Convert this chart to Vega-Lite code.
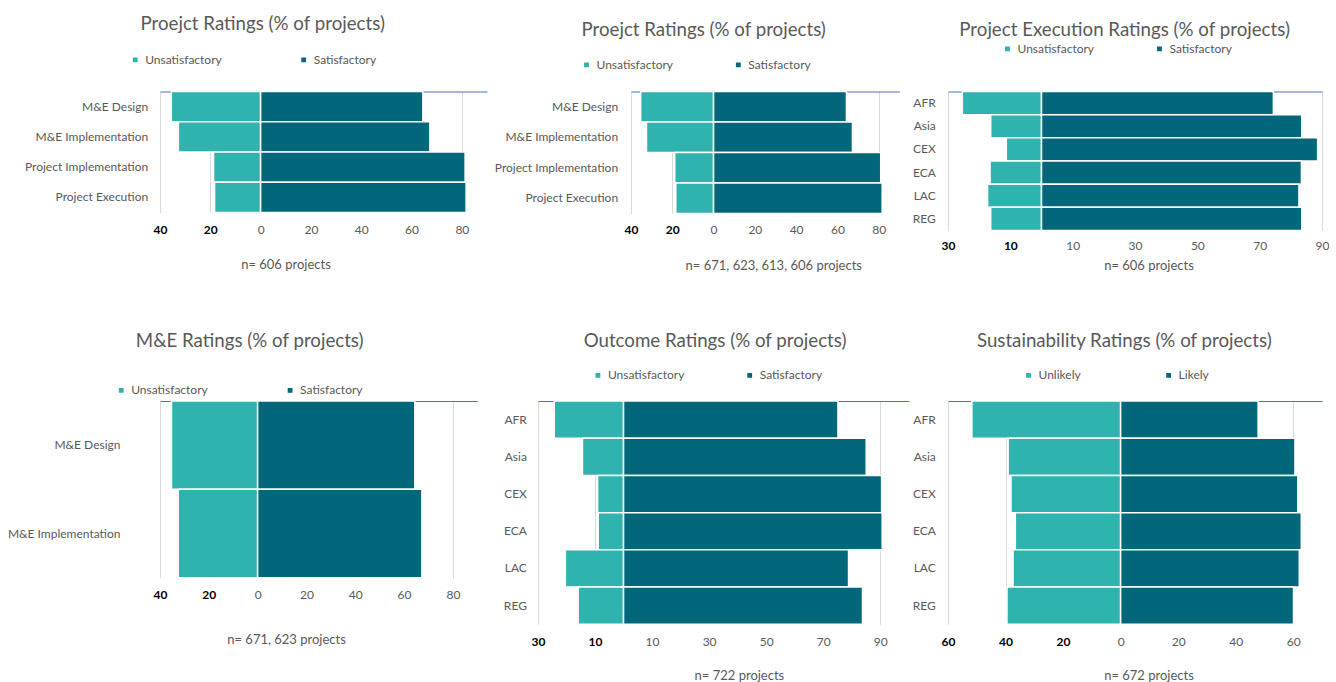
{
  "$schema": "https://vega.github.io/schema/vega-lite/v6.json",
  "background": "white",
  "padding": {"top": 14.5, "left": 0, "right": 0, "bottom": 0},
  "config": {
    "font": "Lato",
    "view": {"stroke": null},
    "title": {"font": "Lato", "fontSize": 18.7, "fontWeight": "normal", "color": "#595959", "frame": "group", "anchor": "middle"},
    "axis": {"labelFont": "Lato", "titleFont": "Lato", "labelFontSize": 12, "labelColor": "#595959", "titleColor": "#595959", "titleFontWeight": "normal"},
    "axisY": {"domain": false, "ticks": false, "grid": false, "title": null, "labelFontSize": 12},
    "legend": {"orient": "none", "direction": "horizontal", "title": null, "symbolType": "square", "symbolSize": 40, "symbolStrokeWidth": 0, "labelFont": "Lato", "labelFontSize": 12, "labelColor": "#595959", "labelOffset": 4, "padding": 0},
    "bar": {"stroke": "white", "strokeWidth": 1.5}
  },
  "datasets": {
    "projectRatings": [
      {"category": "M&E Design", "rating": "Unsatisfactory", "share": -35.5},
      {"category": "M&E Design", "rating": "Satisfactory", "share": 64.5},
      {"category": "M&E Implementation", "rating": "Unsatisfactory", "share": -32.7},
      {"category": "M&E Implementation", "rating": "Satisfactory", "share": 67.3},
      {"category": "Project Implementation", "rating": "Unsatisfactory", "share": -18.7},
      {"category": "Project Implementation", "rating": "Satisfactory", "share": 81.3},
      {"category": "Project Execution", "rating": "Unsatisfactory", "share": -18.3},
      {"category": "Project Execution", "rating": "Satisfactory", "share": 81.7}
    ],
    "projectRatingsAll": [
      {"category": "M&E Design", "rating": "Unsatisfactory", "share": -35.3},
      {"category": "M&E Design", "rating": "Satisfactory", "share": 64.4},
      {"category": "M&E Implementation", "rating": "Unsatisfactory", "share": -32.5},
      {"category": "M&E Implementation", "rating": "Satisfactory", "share": 67.3},
      {"category": "Project Implementation", "rating": "Unsatisfactory", "share": -18.8},
      {"category": "Project Implementation", "rating": "Satisfactory", "share": 81.0},
      {"category": "Project Execution", "rating": "Unsatisfactory", "share": -18.3},
      {"category": "Project Execution", "rating": "Satisfactory", "share": 81.7}
    ],
    "executionByRegion": [
      {"region": "AFR", "rating": "Unsatisfactory", "share": -25.4},
      {"region": "AFR", "rating": "Satisfactory", "share": 74.4},
      {"region": "Asia", "rating": "Unsatisfactory", "share": -16.3},
      {"region": "Asia", "rating": "Satisfactory", "share": 83.5},
      {"region": "CEX", "rating": "Unsatisfactory", "share": -11.3},
      {"region": "CEX", "rating": "Satisfactory", "share": 88.6},
      {"region": "ECA", "rating": "Unsatisfactory", "share": -16.5},
      {"region": "ECA", "rating": "Satisfactory", "share": 83.4},
      {"region": "LAC", "rating": "Unsatisfactory", "share": -17.3},
      {"region": "LAC", "rating": "Satisfactory", "share": 82.6},
      {"region": "REG", "rating": "Unsatisfactory", "share": -16.3},
      {"region": "REG", "rating": "Satisfactory", "share": 83.5}
    ],
    "meRatings": [
      {"category": "M&E Design", "rating": "Unsatisfactory", "share": -35.3},
      {"category": "M&E Design", "rating": "Satisfactory", "share": 64.4},
      {"category": "M&E Implementation", "rating": "Unsatisfactory", "share": -32.5},
      {"category": "M&E Implementation", "rating": "Satisfactory", "share": 67.3}
    ],
    "outcomeByRegion": [
      {"region": "AFR", "rating": "Unsatisfactory", "share": -24.3},
      {"region": "AFR", "rating": "Satisfactory", "share": 75.2},
      {"region": "Asia", "rating": "Unsatisfactory", "share": -14.4},
      {"region": "Asia", "rating": "Satisfactory", "share": 85.1},
      {"region": "CEX", "rating": "Unsatisfactory", "share": -9.1},
      {"region": "CEX", "rating": "Satisfactory", "share": 90.5},
      {"region": "ECA", "rating": "Unsatisfactory", "share": -8.9},
      {"region": "ECA", "rating": "Satisfactory", "share": 90.7},
      {"region": "LAC", "rating": "Unsatisfactory", "share": -20.4},
      {"region": "LAC", "rating": "Satisfactory", "share": 78.9},
      {"region": "REG", "rating": "Unsatisfactory", "share": -15.9},
      {"region": "REG", "rating": "Satisfactory", "share": 83.8}
    ],
    "sustainabilityByRegion": [
      {"region": "AFR", "rating": "Unlikely", "share": -51.7},
      {"region": "AFR", "rating": "Likely", "share": 47.8},
      {"region": "Asia", "rating": "Unlikely", "share": -39.1},
      {"region": "Asia", "rating": "Likely", "share": 60.6},
      {"region": "CEX", "rating": "Unlikely", "share": -38.1},
      {"region": "CEX", "rating": "Likely", "share": 61.6},
      {"region": "ECA", "rating": "Unlikely", "share": -36.6},
      {"region": "ECA", "rating": "Likely", "share": 62.8},
      {"region": "LAC", "rating": "Unlikely", "share": -37.4},
      {"region": "LAC", "rating": "Likely", "share": 62.1},
      {"region": "REG", "rating": "Unlikely", "share": -39.5},
      {"region": "REG", "rating": "Likely", "share": 60.1}
    ]
  },
  "spacing": 58.5,
  "resolve": {"scale": {"color": "independent"}, "legend": {"color": "independent"}},
  "vconcat": [
    {
      "spacing": 0,
      "resolve": {"scale": {"color": "independent"}, "legend": {"color": "independent"}},
      "hconcat": [
        {
          "width": 327, "height": 121,
          "data": {"name": "projectRatings"},
          "title": {"text": "Proejct Ratings (% of projects)", "dx": -60.8, "offset": 20},
          "encoding": {
            "y": {"field": "category", "type": "nominal", "sort": ["M&E Design", "M&E Implementation", "Project Implementation", "Project Execution"], "scale": {"paddingInner": 0, "paddingOuter": 0}, "axis": {"minExtent": 160, "maxExtent": 160, "labelPadding": 12.3}},
            "color": {"field": "rating", "type": "nominal", "scale": {"domain": ["Unsatisfactory", "Satisfactory"], "range": ["#2FB3AE", "#02677A"]}, "legend": {"legendX": -30.8, "legendY": -38, "columnPadding": 74.5}}
          },
          "layer": [
            {
              "transform": [{"filter": "datum.share < 0"}],
              "mark": "bar",
              "encoding": {"x": {"field": "share", "type": "quantitative", "scale": {"domain": [-40, 90], "nice": false}, "axis": {"orient": "bottom", "values": [-40, -20, 0, 20, 40, 60, 80], "domain": false, "ticks": false, "grid": true, "gridColor": "#D9D9D9", "labelFlush": false, "labelOverlap": false, "labelPadding": 12, "labelExpr": "'' + abs(datum.value)", "labelColor": {"condition": {"test": "datum.value < 0", "value": "#000000"}, "value": "#595959"}, "labelFontWeight": {"condition": {"test": "datum.value < 0", "value": "bold"}, "value": "normal"}, "title": "n= 606 projects", "titleFontSize": 13, "titleX": 125.5, "titleY": 52, "titleBaseline": "middle"}}}
            },
            {
              "transform": [{"filter": "datum.share > 0"}],
              "mark": "bar",
              "encoding": {"x": {"field": "share", "type": "quantitative", "axis": {"orient": "top", "labels": false, "ticks": false, "grid": false, "domain": true, "domainColor": "#4472C4", "domainWidth": 1.2, "title": null}}}
            }
          ],
          "resolve": {"axis": {"x": "independent"}}
        },
        {
          "width": 268.3, "height": 122,
          "data": {"name": "projectRatingsAll"},
          "title": {"text": "Proejct Ratings (% of projects)", "dx": -61.5, "offset": 18.5},
          "encoding": {
            "y": {"field": "category", "type": "nominal", "sort": ["M&E Design", "M&E Implementation", "Project Implementation", "Project Execution"], "scale": {"paddingInner": 0, "paddingOuter": 0}, "axis": {"minExtent": 143.7, "maxExtent": 143.7, "labelPadding": 13.4}},
            "color": {"field": "rating", "type": "nominal", "scale": {"domain": ["Unsatisfactory", "Satisfactory"], "range": ["#2FB3AE", "#02677A"]}, "legend": {"legendX": -50.5, "legendY": -33, "columnPadding": 57.8}}
          },
          "layer": [
            {
              "transform": [{"filter": "datum.share < 0"}],
              "mark": "bar",
              "encoding": {"x": {"field": "share", "type": "quantitative", "scale": {"domain": [-40, 90], "nice": false}, "axis": {"orient": "bottom", "values": [-40, -20, 0, 20, 40, 60, 80], "domain": false, "ticks": false, "grid": true, "gridColor": "#D9D9D9", "labelFlush": false, "labelOverlap": false, "labelPadding": 11, "labelExpr": "'' + abs(datum.value)", "labelColor": {"condition": {"test": "datum.value < 0", "value": "#000000"}, "value": "#595959"}, "labelFontWeight": {"condition": {"test": "datum.value < 0", "value": "bold"}, "value": "normal"}, "title": "n= 671, 623, 613, 606  projects", "titleFontSize": 13, "titleX": 142.3, "titleY": 52, "titleBaseline": "middle"}}}
            },
            {
              "transform": [{"filter": "datum.share > 0"}],
              "mark": "bar",
              "encoding": {"x": {"field": "share", "type": "quantitative", "axis": {"orient": "top", "labels": false, "ticks": false, "grid": false, "domain": true, "domainColor": "#4472C4", "domainWidth": 1.2, "title": null}}}
            }
          ],
          "resolve": {"axis": {"x": "independent"}}
        },
        {
          "width": 374, "height": 139,
          "data": {"name": "executionByRegion"},
          "title": {"text": "Project Execution Ratings (% of projects)", "dx": -10.4, "offset": 2.5},
          "encoding": {
            "y": {"field": "region", "type": "nominal", "sort": ["AFR", "Asia", "CEX", "ECA", "LAC", "REG"], "scale": {"paddingInner": 0, "paddingOuter": 0}, "axis": {"minExtent": 47.7, "maxExtent": 47.7, "labelPadding": 12.7}},
            "color": {"field": "rating", "type": "nominal", "scale": {"domain": ["Unsatisfactory", "Satisfactory"], "range": ["#2FB3AE", "#02677A"]}, "legend": {"legendX": 53.5, "legendY": -49, "columnPadding": 58}}
          },
          "layer": [
            {
              "transform": [{"filter": "datum.share < 0"}],
              "mark": "bar",
              "encoding": {"x": {"field": "share", "type": "quantitative", "scale": {"domain": [-30, 90], "nice": false}, "axis": {"orient": "bottom", "values": [-30, -10, 10, 30, 50, 70, 90], "domain": false, "ticks": false, "grid": true, "gridColor": "#D9D9D9", "labelFlush": false, "labelOverlap": false, "labelPadding": 10, "labelExpr": "'' + abs(datum.value)", "labelColor": {"condition": {"test": "datum.value < 0", "value": "#000000"}, "value": "#595959"}, "labelFontWeight": {"condition": {"test": "datum.value < 0", "value": "bold"}, "value": "normal"}, "title": "n= 606 projects", "titleFontSize": 13, "titleX": 200.5, "titleY": 35, "titleBaseline": "middle"}}}
            },
            {
              "transform": [{"filter": "datum.share > 0"}],
              "mark": "bar",
              "encoding": {"x": {"field": "share", "type": "quantitative", "axis": {"orient": "top", "labels": false, "ticks": false, "grid": false, "domain": true, "domainColor": "#4472C4", "domainWidth": 1.2, "title": null}}}
            }
          ],
          "resolve": {"axis": {"x": "independent"}}
        }
      ]
    },
    {
      "spacing": 0,
      "resolve": {"scale": {"color": "independent"}, "legend": {"color": "independent"}},
      "hconcat": [
        {
          "width": 317.3, "height": 176.7,
          "data": {"name": "meRatings"},
          "title": {"text": "M&E Ratings (% of projects)", "dx": -69, "offset": 33.5},
          "encoding": {
            "y": {"field": "category", "type": "nominal", "sort": ["M&E Design", "M&E Implementation"], "scale": {"paddingInner": 0, "paddingOuter": 0}, "axis": {"minExtent": 160, "maxExtent": 160, "labelPadding": 40}},
            "color": {"field": "rating", "type": "nominal", "scale": {"domain": ["Unsatisfactory", "Satisfactory"], "range": ["#2FB3AE", "#02677A"]}, "legend": {"legendX": -44.8, "legendY": -17, "columnPadding": 74.9}}
          },
          "layer": [
            {
              "transform": [{"filter": "datum.share < 0"}],
              "mark": "bar",
              "encoding": {"x": {"field": "share", "type": "quantitative", "scale": {"domain": [-40, 90], "nice": false}, "axis": {"orient": "bottom", "values": [-40, -20, 0, 20, 40, 60, 80], "domain": false, "ticks": false, "grid": true, "gridColor": "#D9D9D9", "labelFlush": false, "labelOverlap": false, "labelPadding": 12, "labelExpr": "'' + abs(datum.value)", "labelColor": {"condition": {"test": "datum.value < 0", "value": "#000000"}, "value": "#595959"}, "labelFontWeight": {"condition": {"test": "datum.value < 0", "value": "bold"}, "value": "normal"}, "title": "n= 671, 623 projects", "titleFontSize": 13, "titleX": 126, "titleY": 61.3, "titleBaseline": "middle"}}}
            },
            {
              "transform": [{"filter": "datum.share > 0"}],
              "mark": "bar",
              "encoding": {"x": {"field": "share", "type": "quantitative", "axis": {"orient": "top", "labels": false, "ticks": false, "grid": false, "domain": true, "domainColor": "#4472C4", "domainWidth": 1.2, "title": null}}}
            }
          ],
          "resolve": {"axis": {"x": "independent"}}
        },
        {
          "width": 370.7, "height": 223.3,
          "data": {"name": "outcomeByRegion"},
          "title": {"text": "Outcome Ratings (% of projects)", "dx": -8.3, "offset": 18.5},
          "encoding": {
            "y": {"field": "region", "type": "nominal", "sort": ["AFR", "Asia", "CEX", "ECA", "LAC", "REG"], "scale": {"paddingInner": 0, "paddingOuter": 0}, "axis": {"minExtent": 60, "maxExtent": 60, "labelPadding": 11.6}},
            "color": {"field": "rating", "type": "nominal", "scale": {"domain": ["Unsatisfactory", "Satisfactory"], "range": ["#2FB3AE", "#02677A"]}, "legend": {"legendX": 53.9, "legendY": -32, "columnPadding": 57.8}}
          },
          "layer": [
            {
              "transform": [{"filter": "datum.share < 0"}],
              "mark": "bar",
              "encoding": {"x": {"field": "share", "type": "quantitative", "scale": {"domain": [-30, 100], "nice": false}, "axis": {"orient": "bottom", "values": [-30, -10, 10, 30, 50, 70, 90], "domain": false, "ticks": false, "grid": true, "gridColor": "#D9D9D9", "labelFlush": false, "labelOverlap": false, "labelPadding": 11.7, "labelExpr": "'' + abs(datum.value)", "labelColor": {"condition": {"test": "datum.value < 0", "value": "#000000"}, "value": "#595959"}, "labelFontWeight": {"condition": {"test": "datum.value < 0", "value": "bold"}, "value": "normal"}, "title": "n= 722 projects", "titleFontSize": 13, "titleX": 200.9, "titleY": 50.7, "titleBaseline": "middle"}}}
            },
            {
              "transform": [{"filter": "datum.share > 0"}],
              "mark": "bar",
              "encoding": {"x": {"field": "share", "type": "quantitative", "axis": {"orient": "top", "labels": false, "ticks": false, "grid": false, "domain": true, "domainColor": "#4472C4", "domainWidth": 1.2, "title": null}}}
            }
          ],
          "resolve": {"axis": {"x": "independent"}}
        },
        {
          "width": 374, "height": 223.3,
          "data": {"name": "sustainabilityByRegion"},
          "title": {"text": "Sustainability Ratings (% of projects)", "dx": -10.7, "offset": 18.5},
          "encoding": {
            "y": {"field": "region", "type": "nominal", "sort": ["AFR", "Asia", "CEX", "ECA", "LAC", "REG"], "scale": {"paddingInner": 0, "paddingOuter": 0}, "axis": {"minExtent": 38.7, "maxExtent": 38.7, "labelPadding": 12.7}},
            "color": {"field": "rating", "type": "nominal", "scale": {"domain": ["Unlikely", "Likely"], "range": ["#2FB3AE", "#02677A"]}, "legend": {"legendX": 74.5, "legendY": -32, "columnPadding": 80.1}}
          },
          "layer": [
            {
              "transform": [{"filter": "datum.share < 0"}],
              "mark": "bar",
              "encoding": {"x": {"field": "share", "type": "quantitative", "scale": {"domain": [-60, 70], "nice": false}, "axis": {"orient": "bottom", "values": [-60, -40, -20, 0, 20, 40, 60], "domain": false, "ticks": false, "grid": true, "gridColor": "#D9D9D9", "labelFlush": false, "labelOverlap": false, "labelPadding": 11.7, "labelExpr": "'' + abs(datum.value)", "labelColor": {"condition": {"test": "datum.value < 0", "value": "#000000"}, "value": "#595959"}, "labelFontWeight": {"condition": {"test": "datum.value < 0", "value": "bold"}, "value": "normal"}, "title": "n= 672 projects", "titleFontSize": 13, "titleX": 200.5, "titleY": 50.7, "titleBaseline": "middle"}}}
            },
            {
              "transform": [{"filter": "datum.share > 0"}],
              "mark": "bar",
              "encoding": {"x": {"field": "share", "type": "quantitative", "axis": {"orient": "top", "labels": false, "ticks": false, "grid": false, "domain": true, "domainColor": "#4472C4", "domainWidth": 1.2, "title": null}}}
            }
          ],
          "resolve": {"axis": {"x": "independent"}}
        }
      ]
    }
  ]
}
